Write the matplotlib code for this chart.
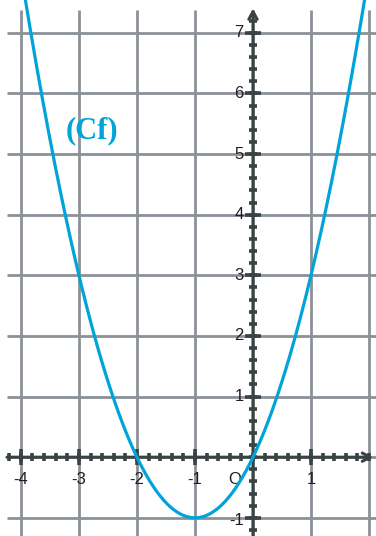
import numpy as np
import matplotlib
matplotlib.use("Agg")
import matplotlib.pyplot as plt

# parabola (Cf): y = a*x^2 + b*x + c (vertex (-1,-1), roots -2 and 0)
A, B, C = 1.0, 2.0, 0.0
X_TICKS = [-4, -3, -2, -1, 1]
X_LABELS = ["-4", "-3", "-2", "-1", "1"]
Y_TICKS = [-1, 1, 2, 3, 4, 5, 6, 7]
Y_LABELS = ["-1", "1", "2", "3", "4", "5", "6", "7"]
GRID_X = [-4, -3, -2, -1, 0, 1, 2]
GRID_Y = [-1, 0, 1, 2, 3, 4, 5, 6, 7]
CURVE_LABEL = "(Cf)"

CURVE_COLOR = "#00a4d8"
GRID_COLOR = "#8b9297"
AXIS_COLOR = "#3a4343"

XMIN, XMAX = -4.36, 2.12
YMIN, YMAX = -1.30, 7.54

fig = plt.figure(figsize=(3.76, 5.36), dpi=100)
ax = fig.add_axes([0, 0, 1, 1])
ax.set_xlim(XMIN, XMAX)
ax.set_ylim(YMIN, YMAX)
ax.axis("off")

# grid
for gx in GRID_X:
    ax.plot([gx, gx], [YMIN, 7.38], color=GRID_COLOR, lw=2.0, zorder=1, solid_capstyle="butt")
for gy in GRID_Y:
    ax.plot([-4.24, XMAX], [gy, gy], color=GRID_COLOR, lw=2.0, zorder=1, solid_capstyle="butt")

# axes with arrows
ax.annotate("", xy=(2.07, 0), xytext=(-4.24, 0),
            arrowprops=dict(arrowstyle="->,head_length=0.55,head_width=0.3",
                            color=AXIS_COLOR, lw=2.2, shrinkA=0, shrinkB=0), zorder=3)
ax.annotate("", xy=(0, 7.40), xytext=(0, YMIN),
            arrowprops=dict(arrowstyle="->,head_length=0.55,head_width=0.3",
                            color=AXIS_COLOR, lw=2.2, shrinkA=0, shrinkB=0), zorder=3)

# minor and major ticks on the axes
minor_x = np.arange(-4.2, 2.01, 0.2)
minor_y = np.arange(-1.2, 7.21, 0.2)
ax.plot(minor_x, np.zeros_like(minor_x), ls="none", marker="|", ms=6, mew=2.6,
        color=AXIS_COLOR, zorder=3)
ax.plot(np.zeros_like(minor_y), minor_y, ls="none", marker="_", ms=6, mew=2.6,
        color=AXIS_COLOR, zorder=3)
ax.plot(X_TICKS, np.zeros(len(X_TICKS)), ls="none", marker="|", ms=11, mew=2.6,
        color=AXIS_COLOR, zorder=3)
ax.plot(np.zeros(len(Y_TICKS)), Y_TICKS, ls="none", marker="_", ms=11, mew=2.6,
        color=AXIS_COLOR, zorder=3)

# curve
xs = np.linspace(-4.0, 2.0, 400)
ys = A * xs ** 2 + B * xs + C
ax.plot(xs, ys, color=CURVE_COLOR, lw=2.3, zorder=4, clip_on=True)

# labels
lab_font = dict(family="Liberation Sans", size=12, color="#1e1e1e")
for v, t in zip(X_TICKS, X_LABELS):
    ax.text(v, -0.36, t, ha="center", va="center", **lab_font)
ax.text(-0.31, -0.36, "O", ha="center", va="center", **lab_font)
for v, t in zip(Y_TICKS, Y_LABELS):
    ax.text(-0.16, v - (0.05 if v < 0 else 0), t, ha="right", va="center", **lab_font)

ax.text(-2.78, 5.38, CURVE_LABEL, ha="center", va="center", color=CURVE_COLOR,
        family="Liberation Serif", fontweight="bold", size=22)

fig.savefig("out.png", dpi=100)
